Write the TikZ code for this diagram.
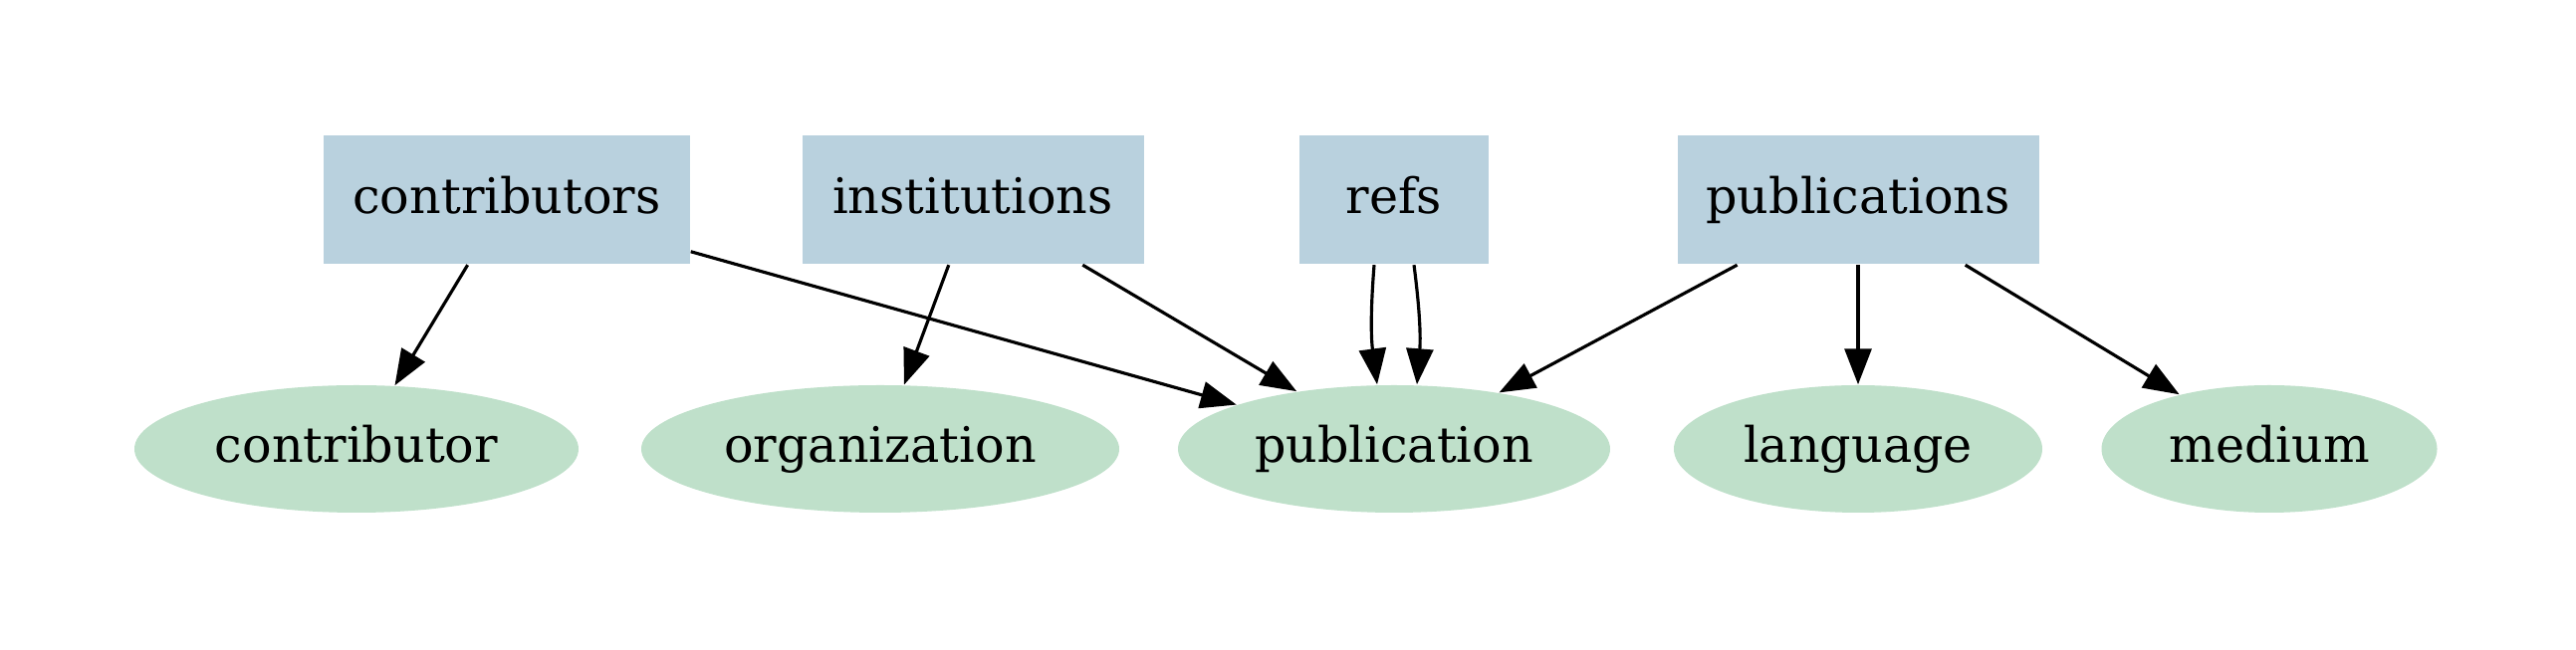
\documentclass[tikz,border=0pt]{standalone}
\usepackage{fontspec}
\setmainfont{DejaVu Serif}
\usepackage{tikz}
\usetikzlibrary{arrows.meta}
\usetikzlibrary{shapes.geometric}
\definecolor{tblblue}{RGB}{185,209,222}
\definecolor{entgreen}{RGB}{191,224,202}

\begin{document}
\begin{tikzpicture}[
        tbl/.style={rectangle,fill=tblblue,inner sep=0pt,minimum height=1.29cm,text height=0.85em,text depth=0.08em,font=\fontsize{14}{16}\selectfont},
        ent/.style={ellipse,fill=entgreen,inner sep=0pt,minimum height=1.28cm,text height=0.85em,text depth=0.08em,font=\fontsize{14}{16}\selectfont},
        link/.style={line width=0.9pt,-{Triangle[length=0.36cm,width=0.27cm]}}
    ]
        \useasboundingbox (0,0) rectangle (25.87,6.53);
        % tables
        \node[tbl,minimum width=3.68cm] (contribs) at (5.09,4.52) {contributors};
        \node[tbl,minimum width=3.43cm] (insts) at (9.77,4.52) {institutions};
        \node[tbl,minimum width=1.90cm] (refs) at (14.00,4.52) {refs};
        \node[tbl,minimum width=3.63cm] (pubs) at (18.66,4.52) {publications};
        % entities
        \node[ent,minimum width=4.46cm] (contrib) at (3.58,2.02) {contributor};
        \node[ent,minimum width=4.80cm] (org) at (8.84,2.02) {organization};
        \node[ent,minimum width=4.34cm] (pub) at (14.00,2.02) {publication};
        \node[ent,minimum width=3.70cm] (lang) at (18.66,2.02) {language};
        \node[ent,minimum width=3.37cm] (medium) at (22.79,2.02) {medium};
        % links
        \draw[link] (contribs) -- (contrib);
        \draw[link] (contribs) -- (pub);
        \draw[link] (insts) -- (org);
        \draw[link] (insts) -- (pub);
        \draw[link] ([xshift=-0.2cm]refs.south) to[bend right=6] ([xshift=-0.17cm]pub.north);
        \draw[link] ([xshift=0.2cm]refs.south) to[bend left=6] ([xshift=0.23cm]pub.north);
        \draw[link] (pubs) -- (pub);
        \draw[link] (pubs) -- (lang);
        \draw[link] (pubs) -- (medium);
    \end{tikzpicture}
\end{document}
